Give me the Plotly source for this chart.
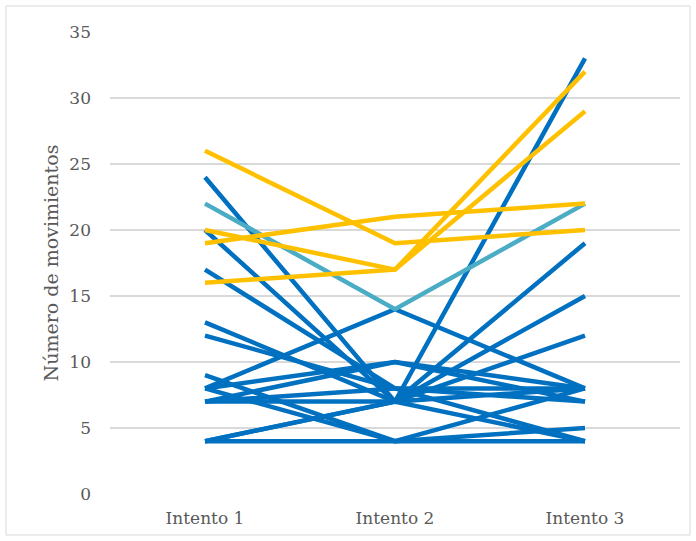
import plotly.graph_objects as go

categories = ["Intento 1", "Intento 2", "Intento 3"]

blue_series = [
    [24, 7, 8],
    [20, 7, 4],
    [17, 8, 7],
    [13, 7, 33],
    [12, 8, 8],
    [9, 4, 8],
    [8, 14, 8],
    [8, 10, 7],
    [7, 10, 8],
    [7, 7, 19],
    [4, 7, 15],
    [4, 7, 12],
    [4, 4, 4],
    [8, 4, 5],
    [7, 8, 4],
]
teal_series = [
    [22, 14, 22],
]
yellow_series = [
    [26, 19, 20],
    [19, 21, 22],
    [20, 17, 32],
    [16, 17, 29],
]

y_ticks = [0, 5, 10, 15, 20, 25, 30, 35]

BLUE = "#0070C0"
TEAL = "#4BACC6"
YELLOW = "#FFC000"

fig = go.Figure()
for vals in blue_series:
    fig.add_trace(go.Scatter(x=categories, y=vals, mode="lines",
                             line=dict(color=BLUE, width=4.5), showlegend=False))
for vals in teal_series:
    fig.add_trace(go.Scatter(x=categories, y=vals, mode="lines",
                             line=dict(color=TEAL, width=4.5), showlegend=False))
for vals in yellow_series:
    fig.add_trace(go.Scatter(x=categories, y=vals, mode="lines",
                             line=dict(color=YELLOW, width=4.5), showlegend=False))

L, R, T, B = 110, 16, 32, 47
W, H = 696, 541
pw, ph = W - L - R, H - T - B

fig.update_layout(
    width=W, height=H,
    margin=dict(l=L, r=R, t=T, b=B),
    paper_bgcolor="white", plot_bgcolor="white",
    font=dict(family="DejaVu Serif, serif", size=17, color="#595959"),
    xaxis=dict(type="category", range=[-0.5, 2.5], showgrid=False, zeroline=False,
               showline=False, ticks="", tickfont=dict(size=17, color="#595959"),
               ticklabelstandoff=12),
    yaxis=dict(range=[0, 35], tickvals=y_ticks, showgrid=True, gridcolor="#D9D9D9",
               gridwidth=1.5, zeroline=False, showline=False, ticks="",
               tickfont=dict(size=17, color="#595959"), ticklabelstandoff=18,
               title=dict(text="Número de movimientos", font=dict(size=19, color="#595959"),
                          standoff=5)),
    shapes=[dict(type="rect", xref="paper", yref="paper",
                 x0=(6 - L) / pw, x1=(690 - L) / pw,
                 y0=-(535 - T - ph) / ph, y1=1 + (T - 6) / ph,
                 line=dict(color="#D9D9D9", width=1), fillcolor="rgba(0,0,0,0)",
                 layer="below")],
)

fig.write_html("out.html")
